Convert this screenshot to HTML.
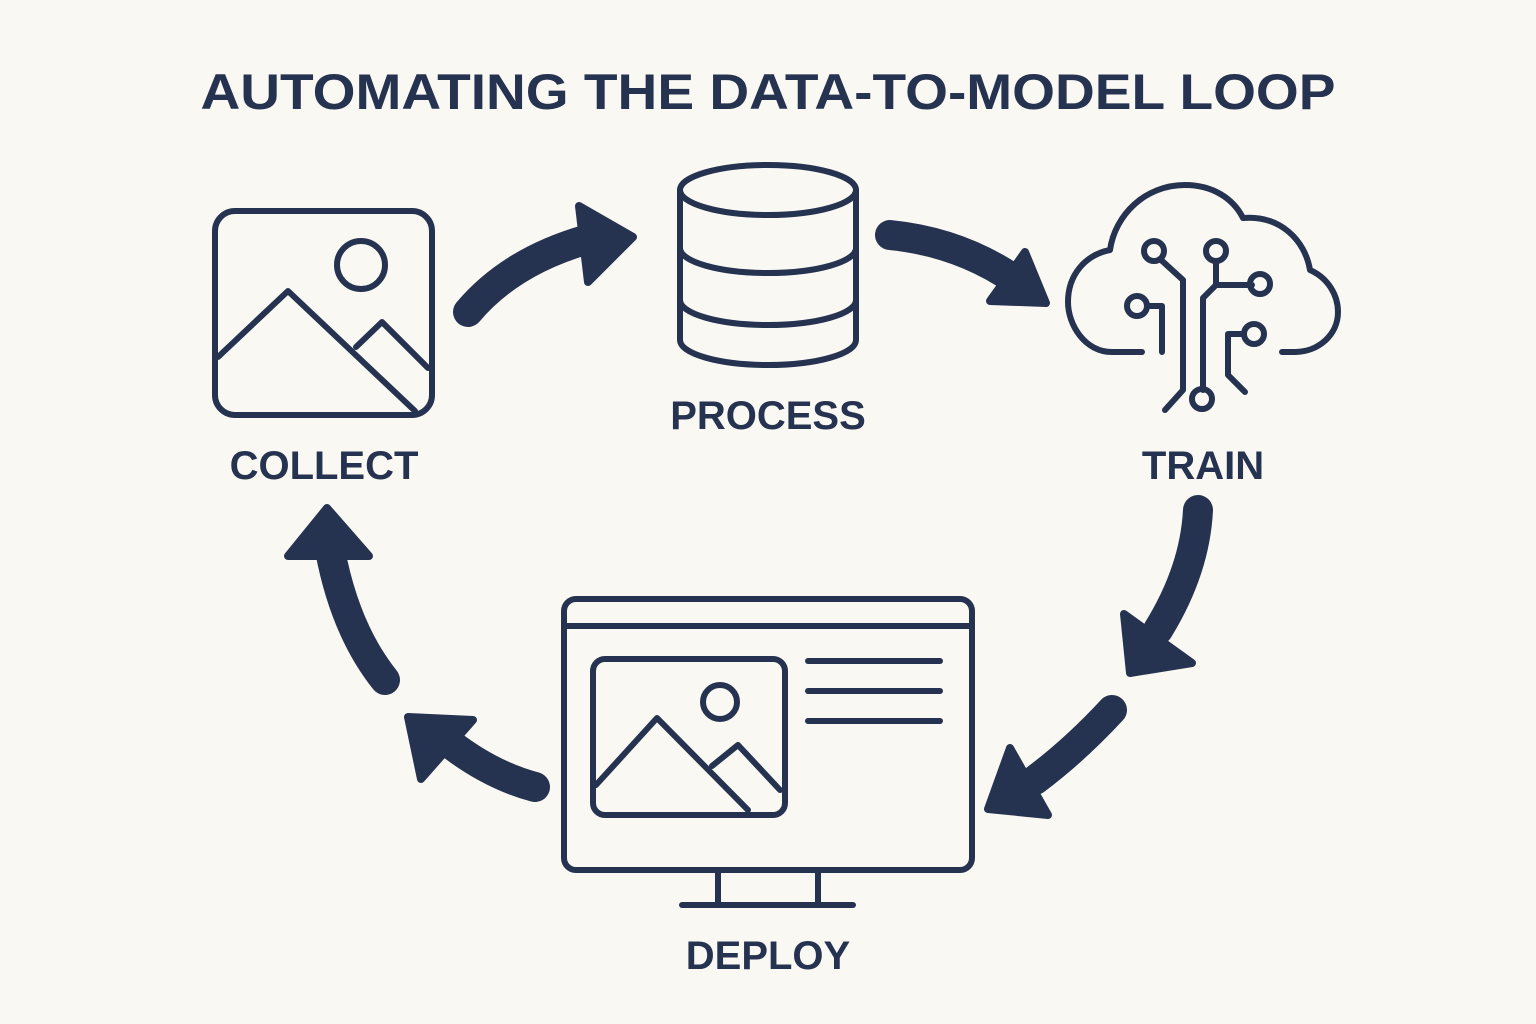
<!DOCTYPE html>
<html><head><meta charset="utf-8"><style>
html,body{margin:0;padding:0;background:#faf8f3;}
svg{display:block}
text{font-family:"Liberation Sans",sans-serif;font-weight:bold;fill:#263350;}
</style></head><body>
<svg width="1536" height="1024" viewBox="0 0 1536 1024">
<rect width="1536" height="1024" fill="#faf8f3"/>
<text x="768" y="109" font-size="50" text-anchor="middle" textLength="1135" lengthAdjust="spacingAndGlyphs">AUTOMATING THE DATA-TO-MODEL LOOP</text>
<g fill="none" stroke="#263350" stroke-width="6" stroke-linecap="round" stroke-linejoin="round">
 <rect x="215" y="211" width="217" height="204" rx="20"/>
 <circle cx="361" cy="265" r="24"/>
 <polyline points="218,357 288,291 415,411"/>
 <polyline points="356,347 382,322 428,368"/>
 <ellipse cx="768" cy="190" rx="88" ry="25"/>
 <path d="M680,190 V340 A88,25 0 0 0 856,340 V190"/>
 <path d="M680,248 A88,25 0 0 0 856,248"/>
 <path d="M680,300 A88,25 0 0 0 856,300"/>
 <path d="M1142,352 H1112 C1085,352 1068,325 1068,302 C1068,275 1085,255 1110,250 C1115,215 1145,185 1185,185 C1212,185 1233,198 1243,218 C1280,215 1305,240 1310,270 C1328,278 1338,295 1338,312 C1338,335 1318,352 1295,352 H1282"/>
 <circle cx="1154" cy="251" r="10"/>
 <path d="M1160,259 L1183,280 V390 L1165,410"/>
 <circle cx="1216" cy="251" r="10"/>
 <path d="M1216,261 V285 M1216,285 H1252 M1216,285 L1203,298 V390"/>
 <circle cx="1260" cy="284" r="10"/>
 <circle cx="1137" cy="306" r="10"/>
 <path d="M1147,306 H1162 V352"/>
 <circle cx="1254" cy="334" r="10"/>
 <path d="M1244,334 H1228 V375 L1245,392"/>
 <circle cx="1202" cy="399" r="10"/>
 <rect x="564" y="599" width="408" height="271" rx="12"/>
 <line x1="564" y1="626" x2="972" y2="626"/>
 <line x1="718" y1="870" x2="718" y2="905"/>
 <line x1="818" y1="870" x2="818" y2="905"/>
 <line x1="682" y1="905" x2="853" y2="905"/>
 <rect x="593" y="659" width="192" height="156" rx="12"/>
 <circle cx="720" cy="702" r="17"/>
 <polyline points="596,785 657,718 748,810"/>
 <polyline points="712,766 738,745 780,790"/>
 <line x1="808" y1="661" x2="940" y2="661"/>
 <line x1="808" y1="691" x2="940" y2="691"/>
 <line x1="808" y1="721" x2="940" y2="721"/>
</g>
<text x="324" y="479" font-size="40" text-anchor="middle">COLLECT</text>
<text x="768" y="429" font-size="40" text-anchor="middle">PROCESS</text>
<text x="1203" y="479" font-size="40" text-anchor="middle">TRAIN</text>
<text x="768" y="969" font-size="40" text-anchor="middle">DEPLOY</text>
<g stroke="#263350" fill="none" stroke-width="30" stroke-linecap="round" stroke-linejoin="round">
 <path d="M468,312 Q510,262 585,240"/>
 <path d="M890,235 Q960,242 1015,280"/>
 <path d="M1198,510 Q1195,570 1158,630"/>
 <path d="M1112,710 Q1075,750 1035,780"/>
 <path d="M535,787 Q490,775 448,742"/>
 <path d="M385,680 Q345,630 330,550"/>
</g>
<g fill="#263350" stroke="#263350" stroke-width="8" stroke-linejoin="round">
 <polygon points="579,206 633,237 588,282"/>
 <polygon points="1025,252 1046,303 990,301"/>
 <polygon points="1124,614 1130,673 1192,663"/>
 <polygon points="1010,748 988,809 1048,815"/>
 <polygon points="408,717 473,720 421,779"/>
 <polygon points="327,508 288,556 369,556"/>
</g>
</svg>
</body></html>
